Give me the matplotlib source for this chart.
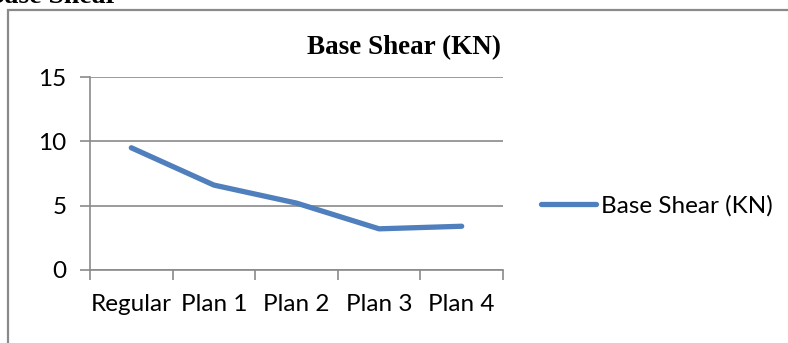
import matplotlib
matplotlib.use('Agg')
import matplotlib.pyplot as plt
from matplotlib.patches import Rectangle

# 数据
plans = ['Regular', 'Plan 1', 'Plan 2', 'Plan 3', 'Plan 4']
base_shear = [9.5, 6.6, 5.2, 3.2, 3.4]
y_ticks = [0, 5, 10, 15]

plt.rcParams['font.family'] = ['Lato', 'DejaVu Sans']

W, H = 788, 343
fig = plt.figure(figsize=(W / 100, H / 100), dpi=100)

# 图表外框（右侧和底部超出画面）
fig.patches.append(Rectangle((8 / W, -0.2), 1.2, (H - 10) / H + 0.2, transform=fig.transFigure,
                             fill=False, edgecolor='#8a8a8a', linewidth=1.6))

# 被截断的小标题
fig.text(118 / W, 1 - 3 / H, 'Base Shear', ha='right', va='baseline',
         family='Liberation Serif', fontweight='bold', fontsize=20)

ax = fig.add_axes([90 / W, 73 / H, 413 / W, 193 / H])
x = list(range(len(plans)))
ax.plot(x, base_shear, color='#4F7FBC', linewidth=3.8, solid_capstyle='round',
        solid_joinstyle='round', label='Base Shear (KN)')

fs = 17.5
ax.set_xlim(-0.5, len(plans) - 0.5)
ax.set_ylim(0, 15)
ax.set_yticks(y_ticks)
ax.set_xticks(x)
ax.set_xticklabels(plans)
ax.set_xticks([i - 0.5 for i in range(len(plans) + 1)], minor=True)
ax.tick_params(axis='x', which='major', length=0, pad=17, labelsize=fs)
ax.tick_params(axis='x', which='minor', length=7, color='#8a8a8a', width=1.2)
ax.tick_params(axis='y', length=7, color='#8a8a8a', width=1.2, pad=10, labelsize=fs)

ax.grid(axis='y', color='#8a8a8a', linewidth=1.2)
ax.set_axisbelow(True)
for s in ['top', 'right']:
    ax.spines[s].set_visible(False)
for s in ['left', 'bottom']:
    ax.spines[s].set_color('#8a8a8a')
    ax.spines[s].set_linewidth(1.2)

fig.text(404 / W, 1 - 54 / H, 'Base Shear (KN)', ha='center', va='baseline',
         family='Liberation Serif', fontweight='bold', fontsize=19.5)

ax.legend(loc='center left', bbox_to_anchor=(541 / W, 1 - 206 / H), bbox_transform=fig.transFigure,
          frameon=False, fontsize=fs, handlelength=2.25, handletextpad=0.2,
          borderaxespad=0, borderpad=0)

fig.savefig('out.png', dpi=100)
